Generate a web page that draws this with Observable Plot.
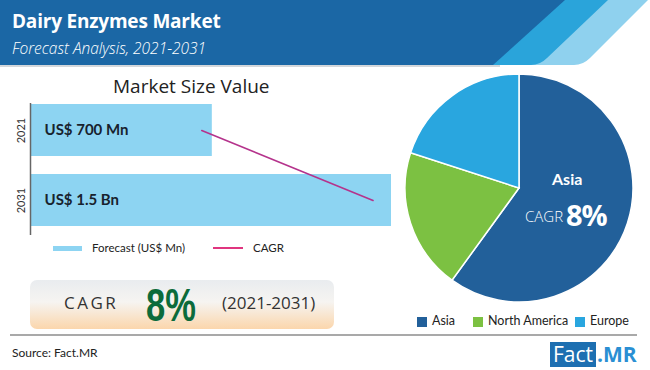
<!DOCTYPE html>
<html><head><meta charset="utf-8">
<script src="https://cdn.jsdelivr.net/npm/d3@7"></script>
<script src="https://cdn.jsdelivr.net/npm/@observablehq/plot@0.6"></script>
<style>
body{margin:0;background:#fff;}
#root{position:relative;width:650px;height:370px;overflow:hidden;font-family:Lato,"Open Sans",sans-serif;background:#fff;}
.abs{position:absolute;white-space:nowrap;line-height:1;}
</style></head><body><div id="root"></div>
<script>
// ---- data ----
const chartTitle = "Dairy Enzymes Market";
const chartSubtitle = "Forecast Analysis, 2021-2031";
const barTitle = "Market Size Value";
const years = ["2021", "2031"];
const marketSize = [700, 1500];            // US$ Mn
const barLabels = ["US$ 700 Mn", "US$ 1.5 Bn"];
const cagrLineValues = [655, 1415];        // CAGR line ends
const legendLabels = ["Forecast (US$ Mn)", "CAGR"];
const regions = ["Asia", "North America", "Europe"];
const regionShares = [60, 20, 20];
const regionColors = ["#22609a", "#7cc142", "#29a6df"];
const cagrValue = "8%";
const cagrPeriod = "(2021-2031)";
const sourceText = "Source: Fact.MR";

const root = document.getElementById("root");
function el(tag, style, text) {
  const e = document.createElement(tag);
  e.className = "abs";
  Object.assign(e.style, style);
  if (text != null) e.textContent = text;
  root.appendChild(e);
  return e;
}

// ---- header ----
const hdr = d3.create("svg").attr("width", 650).attr("height", 68)
  .style("position", "absolute").style("left", "0px").style("top", "0px");
hdr.append("rect").attr("x", 0).attr("y", 65).attr("width", 500).attr("height", 2).attr("fill", "#d3d7db");
hdr.append("path").attr("d", "M0,0 H648 L590,58 Q583,65 574,65 H0 Z").attr("fill", "#8fd1ee");
hdr.append("path").attr("d", "M0,0 H608 L547,58 Q540,65 531,65 H0 Z").attr("fill", "#2aa4da");
hdr.append("path").attr("d", "M0,0 H565 L493,65 H0 Z").attr("fill", "#1b67a5");
root.appendChild(hdr.node());
el("div", {left: "12px", top: "12px", fontFamily: "'Open Sans'", fontWeight: "bold", fontSize: "19px", color: "#fff", letterSpacing: "-0.2px"}, chartTitle);
el("div", {left: "12px", top: "41px", fontFamily: "'Open Sans'", fontStyle: "italic", fontWeight: "300", fontSize: "15.5px", color: "#fff"}, chartSubtitle);

// ---- bar chart ----
el("div", {left: "113px", top: "77px", fontFamily: "'Open Sans'", fontSize: "19px", color: "#222"}, barTitle);

const barData = years.map((y, i) => ({year: y, value: marketSize[i], label: barLabels[i]}));
const lineData = years.map((y, i) => ({year: y, value: cagrLineValues[i]}));
const barPlot = Plot.plot({
  width: 400, height: 175,
  marginLeft: 30, marginRight: 9, marginTop: 33, marginBottom: 10,
  x: {type: "pow", exponent: 0.9, domain: [0, 1500], range: [30, 391], axis: null},
  y: {type: "band", domain: years, range: [34, 156], paddingInner: 0.26, paddingOuter: 0, label: null},
  style: {fontFamily: "Lato, sans-serif", background: "transparent", overflow: "visible"},
  marks: [
    Plot.barX(barData, {x: "value", y: "year", fill: "#8dd4f2"}),
    Plot.ruleX([0], {stroke: "#666", strokeWidth: 1.5}),
    Plot.text(barData, {x: 0, y: "year", text: "label", textAnchor: "start", dx: 14, fontSize: 15, fontWeight: "bold", fill: "#18222e"}),
    Plot.line(lineData, {x: "value", y: "year", stroke: "#b5338c", strokeWidth: 1.6}),
    Plot.axisY({tickSize: 0, tickRotate: -90, tickPadding: 6, fontSize: 11, color: "#333", label: null})
  ]
});
Object.assign(barPlot.style, {position: "absolute", left: "0px", top: "70px"});
root.appendChild(barPlot);

// bar legend
el("div", {left: "53px", top: "246px", width: "29px", height: "5px", background: "#8dd4f2"});
el("div", {left: "92px", top: "242px", fontSize: "11.5px", color: "#222"}, legendLabels[0]);
el("div", {left: "213px", top: "247px", width: "30px", height: "2px", background: "#e0357f"});
el("div", {left: "253px", top: "242px", fontSize: "11.5px", color: "#222"}, legendLabels[1]);

// CAGR box
el("div", {left: "30px", top: "280px", width: "304px", height: "49px", borderRadius: "7px",
  background: "linear-gradient(to bottom, #e9ecef 0%, #f6f4f1 45%, #fbd6ac 100%)"});
el("div", {left: "64px", top: "294px", fontFamily: "'Open Sans'", fontSize: "17px", letterSpacing: "2.5px", color: "#333"}, "CAGR");
el("div", {left: "146px", top: "282px", fontFamily: "'Liberation Sans'", fontWeight: "bold", fontSize: "46px", color: "#0c6b3b",
  transform: "scaleX(0.75)", transformOrigin: "left top"}, cagrValue);
el("div", {left: "222px", top: "294px", fontFamily: "'Open Sans'", fontSize: "17px", color: "#333"}, cagrPeriod);

// ---- pie ----
const colorScale = Plot.scale({color: {type: "ordinal", domain: regions, range: regionColors}});
const pieData = regions.map((r, i) => ({region: r, share: regionShares[i]}));
const arcs = d3.pie().value(d => d.share).sort(null)(pieData);
const piePlot = Plot.plot({
  width: 260, height: 240, margin: 0,
  style: {background: "transparent"},
  marks: [
    () => {
      const g = d3.create("svg:g").attr("transform", "translate(129,118)");
      const arc = d3.arc().innerRadius(0).outerRadius(114);
      g.selectAll("path").data(arcs).join("path")
        .attr("d", arc)
        .attr("fill", d => colorScale.apply(d.data.region))
        .attr("stroke", "#fff").attr("stroke-width", 1.5);
      return g.node();
    }
  ]
});
Object.assign(piePlot.style, {position: "absolute", left: "390px", top: "70px"});
root.appendChild(piePlot);

el("div", {left: "552px", top: "171px", fontWeight: "bold", fontSize: "16px", color: "#fff"}, regions[0]);
el("div", {left: "525px", top: "209px", fontFamily: "'Open Sans'", fontWeight: "300", fontSize: "15px", color: "#fff"}, "CAGR");
el("div", {left: "566px", top: "200px", fontFamily: "'Open Sans'", fontWeight: "bold", fontSize: "29px", color: "#fff", letterSpacing: "-1px"}, cagrValue);

// pie legend
const legX = [417, 473, 575];
regions.forEach((r, i) => {
  el("div", {left: legX[i] + "px", top: "317px", width: "10px", height: "10px", background: colorScale.apply(r)});
  el("div", {left: (legX[i] + 15) + "px", top: "315px", fontSize: "12.5px", color: "#222"}, r);
});

// ---- footer ----
el("div", {left: "10px", top: "334px", width: "627px", height: "2px", background: "#a9a9a9"});
el("div", {left: "12px", top: "347px", fontSize: "12px", color: "#222"}, sourceText);
el("div", {left: "550px", top: "342px", height: "25px", padding: "0 3px", background: "#1d6fb1", color: "#fff",
  fontFamily: "'Open Sans'", fontSize: "21px", lineHeight: "25px"}, "Fact");
el("div", {left: "597px", top: "342px", color: "#2a8fd3", fontFamily: "'Open Sans'", fontWeight: "bold", fontSize: "21px", lineHeight: "25px"}, ".MR");
</script></body></html>
